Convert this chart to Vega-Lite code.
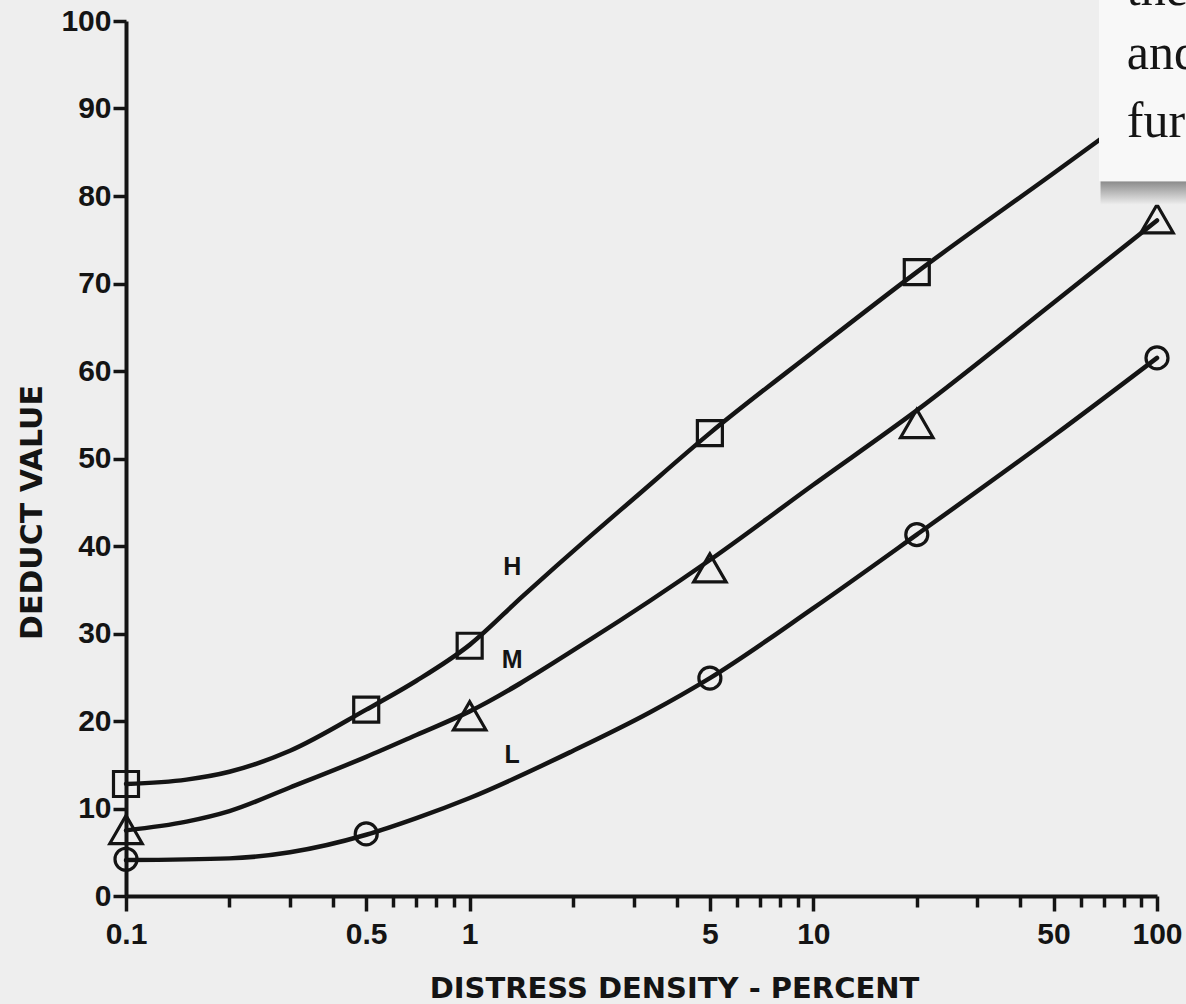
{
  "$schema": "https://vega.github.io/schema/vega-lite/v6.json",
  "width": 1031,
  "height": 875,
  "autosize": {"type": "none"},
  "padding": {"left": 126, "top": 21, "right": 29, "bottom": 108},
  "background": "#eeeeee",
  "config": {"view": {"stroke": null}, "axis": {"grid": false}},
  "datasets": {
    "curves": [
      {"series": "H", "density": 0.1, "deduct": 12.8},
      {"series": "H", "density": 0.15, "deduct": 13.3},
      {"series": "H", "density": 0.2, "deduct": 14.2},
      {"series": "H", "density": 0.3, "deduct": 16.6},
      {"series": "H", "density": 0.5, "deduct": 21.3},
      {"series": "H", "density": 0.7, "deduct": 24.6},
      {"series": "H", "density": 1, "deduct": 28.7},
      {"series": "H", "density": 1.43, "deduct": 34.3},
      {"series": "H", "density": 2.24, "deduct": 41.1},
      {"series": "H", "density": 3, "deduct": 45.4},
      {"series": "H", "density": 5, "deduct": 52.9},
      {"series": "H", "density": 10, "deduct": 62.2},
      {"series": "H", "density": 20, "deduct": 71.3},
      {"series": "H", "density": 50, "deduct": 82.6},
      {"series": "H", "density": 100, "deduct": 91.2},
      {"series": "M", "density": 0.1, "deduct": 7.5},
      {"series": "M", "density": 0.15, "deduct": 8.5},
      {"series": "M", "density": 0.2, "deduct": 9.7},
      {"series": "M", "density": 0.3, "deduct": 12.4},
      {"series": "M", "density": 0.5, "deduct": 15.9},
      {"series": "M", "density": 0.7, "deduct": 18.4},
      {"series": "M", "density": 1, "deduct": 21.1},
      {"series": "M", "density": 2.24, "deduct": 29.3},
      {"series": "M", "density": 5, "deduct": 38.4},
      {"series": "M", "density": 10, "deduct": 47.0},
      {"series": "M", "density": 20, "deduct": 55.5},
      {"series": "M", "density": 50, "deduct": 67.8},
      {"series": "M", "density": 100, "deduct": 77.2},
      {"series": "L", "density": 0.1, "deduct": 4.1},
      {"series": "L", "density": 0.2, "deduct": 4.3},
      {"series": "L", "density": 0.3, "deduct": 5.0},
      {"series": "L", "density": 0.5, "deduct": 7.0},
      {"series": "L", "density": 0.7, "deduct": 8.9},
      {"series": "L", "density": 1, "deduct": 11.2},
      {"series": "L", "density": 2, "deduct": 16.6},
      {"series": "L", "density": 3.35, "deduct": 21.0},
      {"series": "L", "density": 5, "deduct": 24.9},
      {"series": "L", "density": 10, "deduct": 32.9},
      {"series": "L", "density": 20, "deduct": 41.3},
      {"series": "L", "density": 50, "deduct": 52.6},
      {"series": "L", "density": 100, "deduct": 61.5}
    ],
    "markers": [
      {"series": "H", "density": 0.1, "deduct": 12.8},
      {"series": "H", "density": 0.5, "deduct": 21.3},
      {"series": "H", "density": 1, "deduct": 28.6},
      {"series": "H", "density": 5, "deduct": 52.9},
      {"series": "H", "density": 20, "deduct": 71.3},
      {"series": "M", "density": 0.1, "deduct": 7.6},
      {"series": "M", "density": 1, "deduct": 20.6},
      {"series": "M", "density": 5, "deduct": 37.5},
      {"series": "M", "density": 20, "deduct": 54.0},
      {"series": "M", "density": 100, "deduct": 77.4},
      {"series": "L", "density": 0.1, "deduct": 4.2},
      {"series": "L", "density": 0.5, "deduct": 7.1},
      {"series": "L", "density": 5, "deduct": 24.9},
      {"series": "L", "density": 20, "deduct": 41.3},
      {"series": "L", "density": 100, "deduct": 61.5}
    ],
    "labels": [
      {"density": 1.33, "deduct": 37.6, "text": "H"},
      {"density": 1.33, "deduct": 27.0, "text": "M"},
      {"density": 1.33, "deduct": 16.1, "text": "L"}
    ],
    "note": [
      {"density": 81.7, "deduct": 101.8, "text": "the"},
      {"density": 81.7, "deduct": 94.5, "text": "and"},
      {"density": 81.7, "deduct": 86.8, "text": "fur"}
    ]
  },
  "layer": [
    {
      "data": {"name": "curves"},
      "mark": {"type": "line", "interpolate": "monotone", "strokeWidth": 4.5, "color": "#141414", "strokeCap": "round"},
      "encoding": {
        "x": {
          "field": "density", "type": "quantitative",
          "scale": {"type": "log", "domain": [0.1, 100], "nice": false},
          "axis": {
            "orient": "bottom",
            "values": [0.1, 0.5, 1, 5, 10, 50, 100],
            "format": "~g",
            "tickSize": 15, "tickWidth": 3.5, "tickColor": "#141414",
            "domainWidth": 4, "domainColor": "#141414",
            "labelFont": "Liberation Sans", "labelFontWeight": "bold", "labelFontSize": 30,
            "labelColor": "#141414", "labelPadding": 8, "labelBaseline": "top",
            "labelFlush": false, "labelOverlap": false,
            "title": "DISTRESS DENSITY - PERCENT",
            "titleFont": "DejaVu Sans", "titleFontWeight": "bold", "titleFontSize": 29,
            "titleColor": "#141414", "titleX": 548, "titleY": 101,
            "titleAlign": "center", "titleBaseline": "alphabetic"
          }
        },
        "y": {
          "field": "deduct", "type": "quantitative",
          "scale": {"domain": [0, 100], "nice": false},
          "axis": {
            "values": [0, 10, 20, 30, 40, 50, 60, 70, 80, 90, 100],
            "tickSize": 13, "tickWidth": 3.5, "tickColor": "#141414",
            "domainWidth": 4, "domainColor": "#141414",
            "labelFont": "Liberation Sans", "labelFontWeight": "bold", "labelFontSize": 30,
            "labelColor": "#141414", "labelPadding": 2,
            "title": "DEDUCT VALUE",
            "titleFont": "DejaVu Sans", "titleFontWeight": "bold", "titleFontSize": 30,
            "titleColor": "#141414", "titleAngle": -90, "titleX": -85, "titleY": 491,
            "titleAlign": "center", "titleBaseline": "alphabetic"
          }
        },
        "detail": {"field": "series"}
      }
    },
    {
      "data": {"name": "markers"},
      "transform": [{"filter": "datum.series === 'H'"}],
      "mark": {"type": "point", "shape": "square", "size": 625, "filled": false, "strokeWidth": 3.2, "color": "#141414", "opacity": 1},
      "encoding": {
        "x": {
          "field": "density", "type": "quantitative",
          "axis": {
            "orient": "bottom",
            "values": [0.2, 0.3, 0.4, 0.6, 0.7, 0.8, 0.9, 2, 3, 4, 6, 7, 8, 9, 20, 30, 40, 60, 70, 80, 90],
            "labels": false, "domain": false, "title": null,
            "tickSize": 11, "tickWidth": 3.5, "tickColor": "#141414"
          }
        },
        "y": {"field": "deduct", "type": "quantitative"}
      }
    },
    {
      "data": {"name": "markers"},
      "transform": [{"filter": "datum.series === 'M'"}],
      "mark": {"type": "point", "shape": "triangle-up", "size": 1050, "filled": false, "strokeWidth": 3.2, "color": "#141414", "opacity": 1},
      "encoding": {
        "x": {"field": "density", "type": "quantitative", "axis": null},
        "y": {"field": "deduct", "type": "quantitative"}
      }
    },
    {
      "data": {"name": "markers"},
      "transform": [{"filter": "datum.series === 'L'"}],
      "mark": {"type": "point", "shape": "circle", "size": 484, "filled": false, "strokeWidth": 3.2, "color": "#141414", "opacity": 1},
      "encoding": {
        "x": {"field": "density", "type": "quantitative", "axis": null},
        "y": {"field": "deduct", "type": "quantitative"}
      }
    },
    {
      "data": {"name": "labels"},
      "mark": {"type": "text", "font": "Liberation Sans", "fontWeight": "bold", "fontSize": 25, "color": "#141414", "align": "center", "baseline": "middle"},
      "encoding": {
        "x": {"field": "density", "type": "quantitative", "axis": null},
        "y": {"field": "deduct", "type": "quantitative"},
        "text": {"field": "text"}
      }
    },
    {
      "data": {"values": [{}]},
      "mark": {"type": "rect", "clip": false, "fill": {"gradient": "linear", "x1": 0, "y1": 0, "x2": 0, "y2": 1, "stops": [{"offset": 0, "color": "#8a8a8a"}, {"offset": 1, "color": "#eeeeee"}]}},
      "encoding": {
        "x": {"datum": 68.5, "type": "quantitative", "axis": null},
        "x2": {"datum": 130},
        "y": {"datum": 81.7, "type": "quantitative"},
        "y2": {"datum": 79.0}
      }
    },
    {
      "data": {"values": [{}]},
      "mark": {"type": "rect", "clip": false, "fill": "#f8f8f8"},
      "encoding": {
        "x": {"datum": 67.8, "type": "quantitative", "axis": null},
        "x2": {"datum": 130},
        "y": {"datum": 81.7, "type": "quantitative"},
        "y2": {"datum": 106}
      }
    },
    {
      "data": {"name": "note"},
      "mark": {"type": "text", "clip": false, "font": "Liberation Serif", "fontSize": 50, "color": "#151515", "align": "left", "baseline": "alphabetic"},
      "encoding": {
        "x": {"field": "density", "type": "quantitative", "axis": null},
        "y": {"field": "deduct", "type": "quantitative"},
        "text": {"field": "text"}
      }
    }
  ],
  "resolve": {"axis": {"x": "independent"}}
}
